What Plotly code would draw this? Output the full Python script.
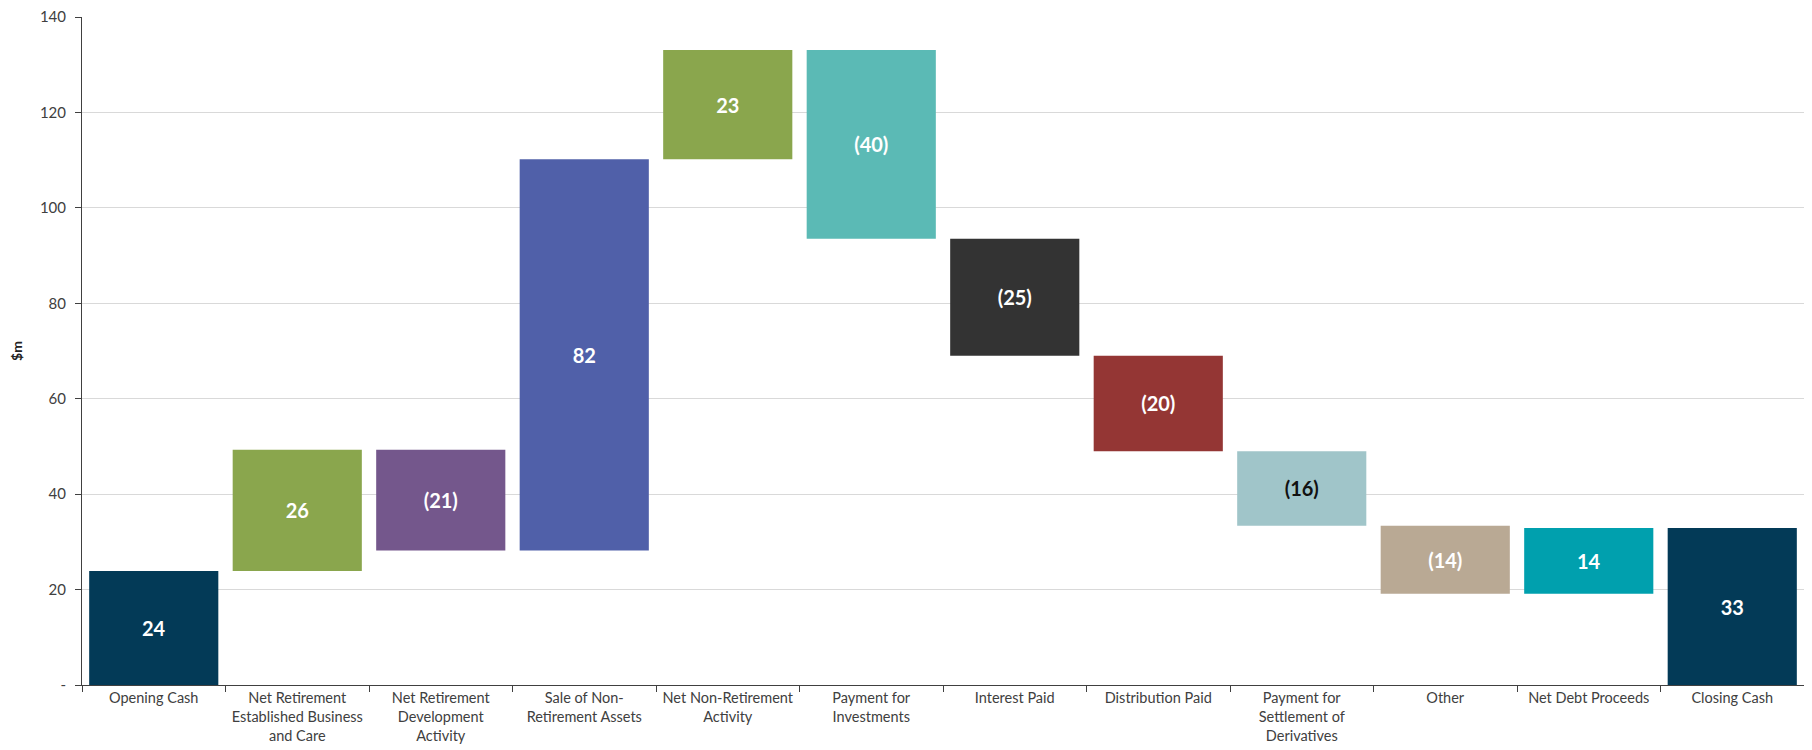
import plotly.graph_objects as go

categories = [
    "Opening Cash",
    "Net Retirement<br>Established Business<br>and Care",
    "Net Retirement<br>Development<br>Activity",
    "Sale of Non-<br>Retirement Assets",
    "Net Non-Retirement<br>Activity",
    "Payment for<br>Investments",
    "Interest Paid",
    "Distribution Paid",
    "Payment for<br>Settlement of<br>Derivatives",
    "Other",
    "Net Debt Proceeds",
    "Closing Cash",
]
opening_cash = 23.9
changes = [25.4, -21.1, 82.0, 22.9, -39.6, -24.5, -20.0, -15.6, -14.3, 13.8]
value_labels = ["24", "26", "(21)", "82", "23", "(40)", "(25)", "(20)", "(16)", "(14)", "14", "33"]
bar_colors = ["#033a57", "#8aa64d", "#74578c", "#5060a9", "#8aa64d", "#5bbab5",
              "#333333", "#943634", "#a0c5c9", "#b9a994", "#00a0ae", "#033a57"]
label_colors = ["white", "white", "white", "white", "white", "white",
                "white", "white", "#111111", "white", "white", "white"]
y_tickvals = [0, 20, 40, 60, 80, 100, 120, 140]
y_ticktext = ["-", "20", "40", "60", "80", "100", "120", "140"]

# build bases / heights from the step values
bases, heights = [0.0], [opening_cash]
running = opening_cash
for c in changes:
    new = running + c
    bases.append(min(running, new))
    heights.append(abs(c))
    running = new
bases.append(0.0)
heights.append(running)

fig = go.Figure(go.Bar(
    x=categories,
    y=heights,
    base=bases,
    marker=dict(color=bar_colors, line=dict(width=0)),
    text=value_labels,
    textposition="inside",
    insidetextanchor="middle",
    textangle=0,
    textfont=dict(family="Lato", size=20, color=label_colors, weight="bold"),
    hoverinfo="skip",
))

# page body has an 8px default margin, so the figure is sized to fit inside the window
fig.update_layout(
    width=1804, height=742,
    margin=dict(l=74, r=8, t=9, b=65),
    plot_bgcolor="white", paper_bgcolor="white",
    bargap=0.1,
    showlegend=False,
    font=dict(family="Lato", size=14, color="#404040"),
)
fig.update_xaxes(
    automargin=False,
    showline=True, linecolor="#404040", linewidth=1,
    ticks="outside", tickson="boundaries", ticklen=6, tickcolor="#404040",
    tickfont=dict(family="Lato", size=14.5, color="#404040"),
    ticklabeloverflow="allow",
    showgrid=False,
)
fig.update_yaxes(
    automargin=False,
    range=[0, 140], tickvals=y_tickvals, ticktext=y_ticktext,
    showline=True, linecolor="#404040", linewidth=1,
    ticks="outside", ticklen=6, tickcolor="#404040",
    ticklabelstandoff=6,
    ticklabeloverflow="allow",
    showgrid=True, gridcolor="#d9d9d9", gridwidth=1,
    zeroline=False,
    tickfont=dict(family="Lato", size=15, color="#404040"),
    title=dict(text="<b>$m</b>", font=dict(family="Lato", size=14, color="#222222"), standoff=14),
)

fig.write_html("out.html")
